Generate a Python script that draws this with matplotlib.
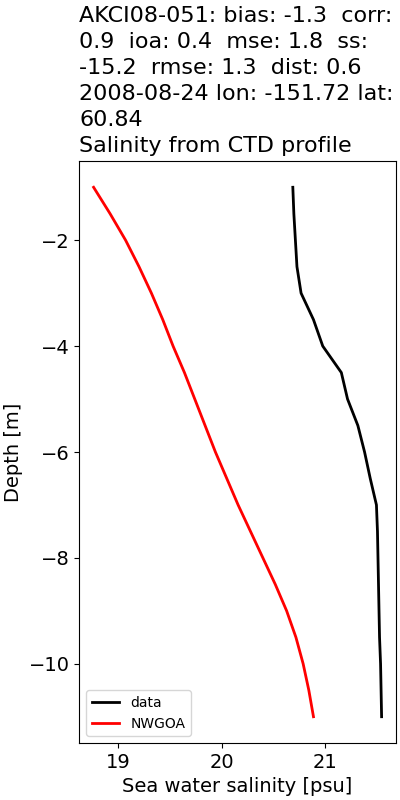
import matplotlib
matplotlib.use("Agg")
import matplotlib.pyplot as plt
import numpy as np

# Depth levels [m]
depth = [-1.0, -1.5, -2.0, -2.5, -3.0, -3.5, -4.0, -4.5, -5.0, -5.5, -6.0,
         -6.5, -7.0, -7.5, -8.0, -8.5, -9.0, -9.5, -10.0, -10.5, -11.0]

# Observed salinity (CTD)
sal_data = [20.69, 20.70, 20.715, 20.73, 20.77, 20.89, 20.98, 21.16, 21.22, 21.32, 21.385,
            21.44, 21.50, 21.51, 21.515, 21.52, 21.525, 21.53, 21.54, 21.545, 21.55]

# Model salinity (NWGOA)
sal_model = [18.76, 18.92, 19.07, 19.20, 19.32, 19.43, 19.53, 19.64, 19.74, 19.84, 19.94,
             20.05, 20.16, 20.28, 20.40, 20.52, 20.63, 20.72, 20.79, 20.845, 20.89]

title = ("AKCI08-051: bias: -1.3  corr:\n0.9  ioa: 0.4  mse: 1.8  ss:\n"
         "-15.2  rmse: 1.3  dist: 0.6\n2008-08-24 lon: -151.72 lat:\n60.84\n"
         "Salinity from CTD profile")

fig, ax = plt.subplots(figsize=(4, 8), dpi=100)
ax.plot(sal_data, depth, color="black", lw=2, label="data")
ax.plot(sal_model, depth, color="red", lw=2, label="NWGOA")

ax.set_title(title, loc="left", fontsize=16, ha="left", linespacing=1.38)
ax.set_xlabel("Sea water salinity [psu]", fontsize=14)
ax.set_ylabel("Depth [m]", fontsize=14)
ax.tick_params(labelsize=14)
ax.legend(loc="lower left", fontsize=10)

fig.subplots_adjust(left=0.198, right=0.99, bottom=0.071, top=0.799)
fig.savefig("out.png", dpi=100)
